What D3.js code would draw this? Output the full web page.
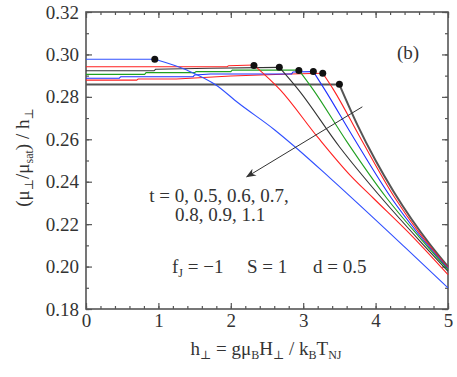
<!DOCTYPE html>
<html>
<head>
<meta charset="utf-8">
<script src="https://cdn.jsdelivr.net/npm/d3@7"></script>
<style>
  body { margin: 0; background: #fff; }
  text { font-family: "Liberation Serif", "Times New Roman", "DejaVu Serif", serif; fill: #333; }
</style>
</head>
<body>
<div id="chart-area"></div>
<script>
// data: h_perp vs (mu_perp/mu_sat)/h_perp for several t
var tValues = [0, 0.5, 0.6, 0.7, 0.8, 0.9, 1.1];
var curveColors = ["#555555", "#ff2020", "#2030ff", "#20a020", "#333333", "#ff2020", "#3050ff"];

var curveT0 = [[0, 0.2858], [3.50, 0.2858], [3.75, 0.2667], [4.0, 0.2500], [4.25, 0.2353], [4.5, 0.2222], [4.75, 0.2105], [5, 0.2000]];
var curveT05 = [[0, 0.2879], [0.70, 0.2879], [0.72, 0.2884], [1.25, 0.2884], [2.0, 0.2898], [2.82, 0.2908], [3.27, 0.2911],
                [3.42, 0.2833], [3.8, 0.2600], [4.27, 0.2322], [4.6, 0.2160], [5, 0.1995]];
var curveT06 = [[0, 0.2888], [0.46, 0.2888], [0.48, 0.2895], [1.48, 0.2895], [1.50, 0.2903], [1.72, 0.2908], [2.84, 0.2908], [2.86, 0.2917], [3.14, 0.2919],
                [3.30, 0.2833], [3.7, 0.2605], [4.22, 0.2322], [4.6, 0.2150], [5, 0.1990]];
var curveT07 = [[0, 0.2906], [0.81, 0.2906], [0.83, 0.2914], [1.50, 0.2914], [1.52, 0.2919], [2.0, 0.2919], [2.02, 0.2926], [2.94, 0.2926],
                [3.14, 0.2833], [3.6, 0.2590], [4.155, 0.2322], [4.6, 0.2140], [5, 0.1985]];
var curveT08 = [[0, 0.2923], [0.94, 0.2923], [0.96, 0.2930], [1.7, 0.2935], [2.67, 0.2939],
                [2.935, 0.2833], [3.5, 0.2565], [4.085, 0.2322], [4.6, 0.2125], [5, 0.1978]];
var curveT09 = [[0, 0.2942], [1.95, 0.2942], [1.97, 0.2947], [2.32, 0.2950],
                [2.683, 0.2833], [3.2, 0.2610], [3.65, 0.2430], [3.97, 0.2322], [4.5, 0.2145], [5, 0.1962]];
var curveT11 = [[0, 0.2977], [0.95, 0.2977], [1.4, 0.2925], [1.80, 0.2855], [2.10, 0.2772], [2.607, 0.2644], [2.905, 0.2559],
                [3.372, 0.2417], [4.418, 0.2087], [5, 0.1900]];
var curves = [curveT0, curveT05, curveT06, curveT07, curveT08, curveT09, curveT11];

// the filled dots where each plateau ends
var dotsX = [3.50, 3.27, 3.14, 2.94, 2.67, 2.32, 0.95];
var dotsY = [0.2860, 0.2911, 0.2919, 0.2924, 0.2939, 0.2948, 0.2977];

var xTicks = [0, 1, 2, 3, 4, 5];
var yTicks = [0.18, 0.20, 0.22, 0.24, 0.26, 0.28, 0.30, 0.32];

var margin = {left: 86, right: 9, top: 12, bottom: 68};
var width = 457 - margin.left - margin.right,
    height = 377 - margin.top - margin.bottom;

var svg = d3.select("#chart-area")
    .append("svg")
        .attr("width", 457)
        .attr("height", 377)
    .append("g")
        .attr("transform", "translate(" + margin.left + "," + margin.top + ")");

var x = d3.scaleLinear().domain([0, 5]).range([0, width]);
var y = d3.scaleLinear().domain([0.18, 0.32]).range([height, 0]);

var xMinor = d3.range(0, 5.001, 0.2).map(function(d) { return +d.toFixed(1); });
var yMinor = d3.range(0.18, 0.3201, 0.01).map(function(d) { return +d.toFixed(2); });

function styleAxis(g) {
    g.select(".domain").remove();
    g.attr("font-family", null);
    g.selectAll("line").attr("stroke", "#555").attr("stroke-width", 1.2);
    g.selectAll("text").attr("font-size", "19px").attr("fill", "#333");
}

// bottom
svg.append("g").attr("transform", "translate(0," + height + ")")
    .call(d3.axisBottom(x).tickValues(xMinor).tickSize(-3).tickFormat(""))
    .call(styleAxis);
svg.append("g").attr("transform", "translate(0," + height + ")")
    .call(d3.axisBottom(x).tickValues(xTicks).tickSize(-6).tickPadding(5).tickFormat(d3.format("d")))
    .call(styleAxis);
// top
svg.append("g")
    .call(d3.axisTop(x).tickValues(xMinor).tickSize(-3).tickFormat(""))
    .call(styleAxis);
svg.append("g")
    .call(d3.axisTop(x).tickValues(xTicks).tickSize(-6).tickFormat(""))
    .call(styleAxis);
// left
svg.append("g")
    .call(d3.axisLeft(y).tickValues(yMinor).tickSize(-3).tickFormat(""))
    .call(styleAxis);
svg.append("g")
    .call(d3.axisLeft(y).tickValues(yTicks).tickSize(-6).tickPadding(7).tickFormat(d3.format(".2f")))
    .call(styleAxis);
// right
svg.append("g").attr("transform", "translate(" + width + ",0)")
    .call(d3.axisRight(y).tickValues(yMinor).tickSize(-3).tickFormat(""))
    .call(styleAxis);
svg.append("g").attr("transform", "translate(" + width + ",0)")
    .call(d3.axisRight(y).tickValues(yTicks).tickSize(-6).tickFormat(""))
    .call(styleAxis);

// frame
svg.append("rect")
    .attr("x", 0).attr("y", 0)
    .attr("width", width).attr("height", height)
    .attr("fill", "none")
    .attr("stroke", "#555")
    .attr("stroke-width", 1.6);

// plateau drawn straight, the falling part drawn smooth from the dot on
var line = d3.line()
    .x(function(d) { return x(d[0]); })
    .y(function(d) { return y(d[1]); });
var smooth = d3.line()
    .curve(d3.curveMonotoneX)
    .x(function(d) { return x(d[0]); })
    .y(function(d) { return y(d[1]); });

curves.forEach(function(c, i) {
    var plateau = c.filter(function(p) { return p[0] <= dotsX[i]; });
    var fall = c.filter(function(p) { return p[0] >= dotsX[i]; });
    var w = i == 0 ? 2 : 1.1;
    svg.append("path")
        .attr("d", line(plateau))
        .attr("fill", "none")
        .attr("stroke", curveColors[i])
        .attr("stroke-width", w);
    svg.append("path")
        .attr("d", smooth(fall))
        .attr("fill", "none")
        .attr("stroke", curveColors[i])
        .attr("stroke-width", w);
});

svg.selectAll(".dot")
    .data(dotsX)
    .enter().append("circle")
        .attr("class", "dot")
        .attr("cx", function(d) { return x(d); })
        .attr("cy", function(d, i) { return y(dotsY[i]); })
        .attr("r", 3.5)
        .attr("fill", "#111");

// arrow showing increasing t
svg.append("defs").append("marker")
    .attr("id", "arrow")
    .attr("viewBox", "0 0 10 10")
    .attr("refX", 9).attr("refY", 5)
    .attr("markerWidth", 10).attr("markerHeight", 10)
    .attr("markerUnits", "userSpaceOnUse")
    .attr("orient", "auto")
  .append("path")
    .attr("d", "M0,1 L10,5 L0,9 L3,5 Z")
    .attr("fill", "#333");

svg.append("line")
    .attr("x1", x(3.817)).attr("y1", y(0.2753))
    .attr("x2", x(2.221)).attr("y2", y(0.2423))
    .attr("stroke", "#333")
    .attr("stroke-width", 1)
    .attr("marker-end", "url(#arrow)");

// annotations
svg.append("text")
    .attr("x", 311).attr("y", 47)
    .attr("font-size", "19px")
    .text("(b)");

svg.append("text")
    .attr("x", 133).attr("y", 190)
    .attr("text-anchor", "middle")
    .attr("font-size", "19px")
    .text("t = 0, 0.5, 0.6, 0.7,");
svg.append("text")
    .attr("x", 134).attr("y", 209)
    .attr("text-anchor", "middle")
    .attr("font-size", "19px")
    .text("0.8, 0.9, 1.1");

var par = svg.append("text")
    .attr("y", 261)
    .attr("font-size", "19px");
par.append("tspan").attr("x", 86).text("f");
par.append("tspan").attr("font-size", "12px").attr("dy", 4).text("J");
par.append("tspan").attr("dy", -4).text(" = \u22121");
par.append("tspan").attr("x", 161).text("S = 1");
par.append("tspan").attr("x", 227).text("d = 0.5");

// x label
var xl = svg.append("text")
    .attr("x", 180).attr("y", height + 46)
    .attr("text-anchor", "middle")
    .attr("font-size", "19px");
xl.append("tspan").text("h");
xl.append("tspan").attr("font-size", "12px").attr("dy", 4).text("\u22a5");
xl.append("tspan").attr("dy", -4).text(" = g\u03bc");
xl.append("tspan").attr("font-size", "12px").attr("dy", 4).text("B");
xl.append("tspan").attr("dy", -4).text("H");
xl.append("tspan").attr("font-size", "12px").attr("dy", 4).text("\u22a5");
xl.append("tspan").attr("dy", -4).text(" / k");
xl.append("tspan").attr("font-size", "12px").attr("dy", 4).text("B");
xl.append("tspan").attr("dy", -4).text("T");
xl.append("tspan").attr("font-size", "12px").attr("dy", 4).text("NJ");

// y label
var yl = svg.append("text")
    .attr("transform", "translate(" + (-57) + "," + (height / 2 - 3) + ") rotate(-90)")
    .attr("text-anchor", "middle")
    .attr("font-size", "19px");
yl.append("tspan").text("(\u03bc");
yl.append("tspan").attr("font-size", "12px").attr("dy", 4).text("\u22a5");
yl.append("tspan").attr("dy", -4).text("/\u03bc");
yl.append("tspan").attr("font-size", "12px").attr("dy", 4).text("sat");
yl.append("tspan").attr("dy", -4).text(") / h");
yl.append("tspan").attr("font-size", "12px").attr("dy", 4).text("\u22a5");
</script>
</body>
</html>
